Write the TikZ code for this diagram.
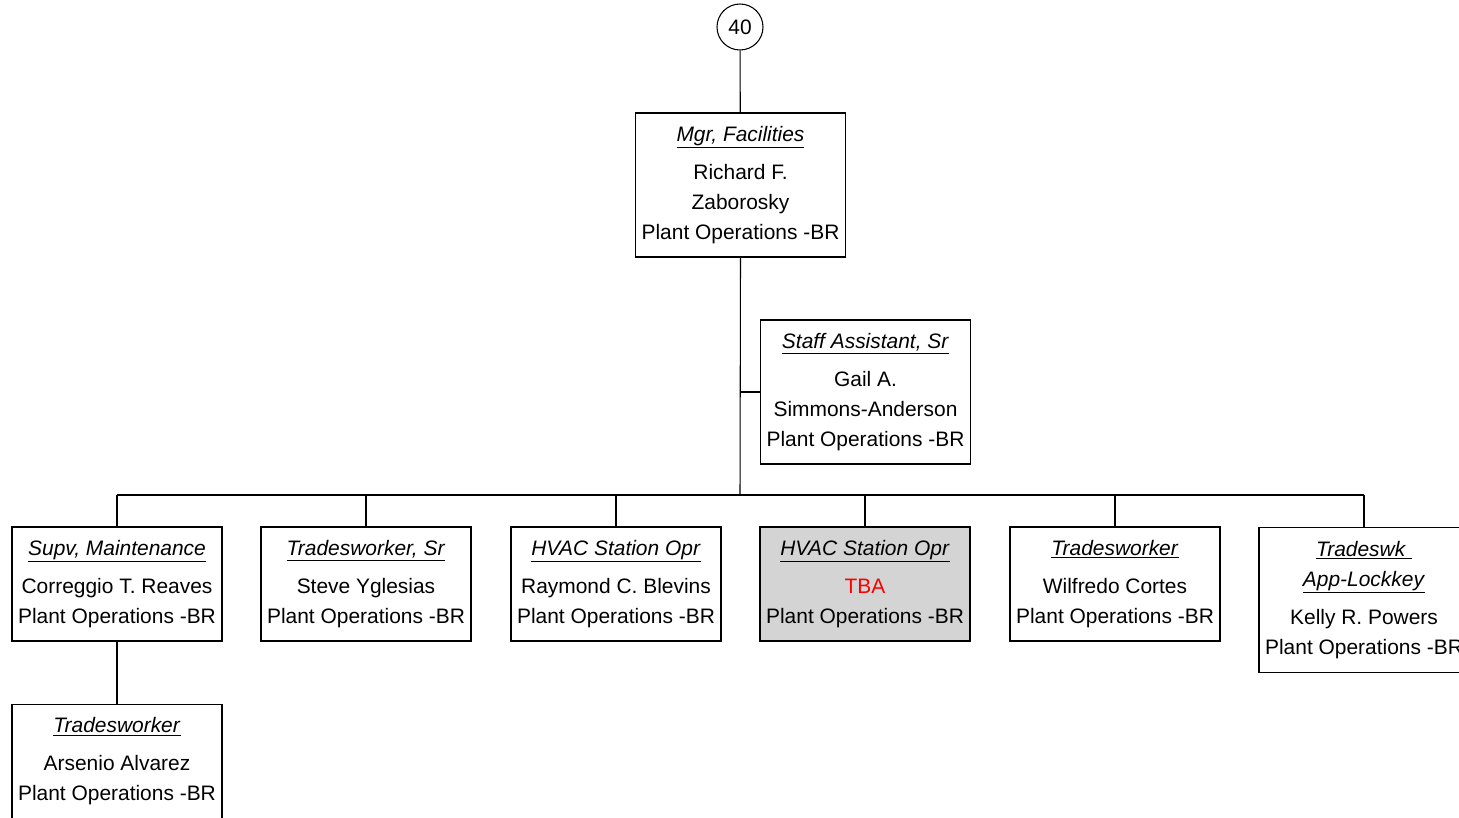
\documentclass[tikz,border=0pt]{standalone}
\usepackage{fontspec}
\setmainfont{Liberation Sans}
\usetikzlibrary{positioning}
\definecolor{tbared}{HTML}{FF0000}
\definecolor{vacantgray}{HTML}{D4D4D4}
\newcommand{\jobttl}[1]{\underline{\textit{#1}}}

\begin{document}
\begin{tikzpicture}[
    x=0.75pt, y=-0.75pt,
    font=\fontsize{15.7}{22.5}\selectfont,
    line width=0.8pt,
    posbox/.style={draw, fill=white, align=center, inner sep=2pt, minimum width=157.5pt, minimum height=85.5pt},
    bigbox/.style={posbox, minimum height=108pt},
    vacant/.style={posbox, fill=vacantgray},
    pagecirc/.style={draw, circle, minimum size=34.5pt, inner sep=0pt},
    wire/.style={line width=0.8pt},
]
    \clip (0,0) rectangle (1459,817);
    \fill[white] (0,0) rectangle (1459,817);

    % =====================================================================
    % Top: page reference and manager
    % =====================================================================
    \node[pagecirc] (page) at (740,27) {40};
    \node[bigbox] (mgr) at (740.5,185) {\jobttl{Mgr, Facilities}\\[6pt]Richard F.\\Zaborosky\\Plant Operations -BR};
    \node[bigbox] (staff) at (865.5,392) {\jobttl{Staff Assistant, Sr}\\[6pt]Gail A.\\Simmons-Anderson\\Plant Operations -BR};

    % bus coordinates
    \coordinate (busc) at (740,495);
    \coordinate (busl) at (117,495);
    \coordinate (busr) at (1364,495);

    % =====================================================================
    % Direct reports
    % =====================================================================
    \node[posbox] (supv) at (117,584) {\jobttl{Supv, Maintenance}\\[6pt]Correggio T. Reaves\\Plant Operations -BR};
    \node[posbox] (trsr) at (366,584) {\jobttl{Tradesworker, Sr}\\[6pt]Steve Yglesias\\Plant Operations -BR};
    \node[posbox] (hvaca) at (616,584) {\jobttl{HVAC Station Opr}\\[6pt]Raymond C. Blevins\\Plant Operations -BR};
    \node[vacant] (hvacb) at (865,584) {\jobttl{HVAC Station Opr}\\[6pt]\textcolor{tbared}{TBA}\\Plant Operations -BR};
    \node[posbox] (trwk) at (1115,584) {\jobttl{Tradesworker}\\[6pt]Wilfredo Cortes\\Plant Operations -BR};
    \node[posbox, anchor=north, minimum height=108.75pt] (tlock) at (1364,527) {\jobttl{Tradeswk }\\\jobttl{App-Lockkey}\\[6pt]Kelly R. Powers\\Plant Operations -BR};

    % Second level
    \node[posbox, anchor=north] (trwkb) at (117,704) {\jobttl{Tradesworker}\\[6pt]Arsenio Alvarez\\Plant Operations -BR};

    % Connectors
    \draw[wire] (page) -- (mgr);
    \draw[wire] (mgr.south) -- (busc);
    \draw[wire] (staff.west) -- (staff.west -| busc);
    \draw[wire] (busl) -- (busr);
    \foreach \n in {supv,trsr,hvaca,hvacb,trwk,tlock}
        \draw[wire] (\n.north) -- (\n.north |- busc);
    \draw[wire] (supv) -- (trwkb);

\end{tikzpicture}
\end{document}
